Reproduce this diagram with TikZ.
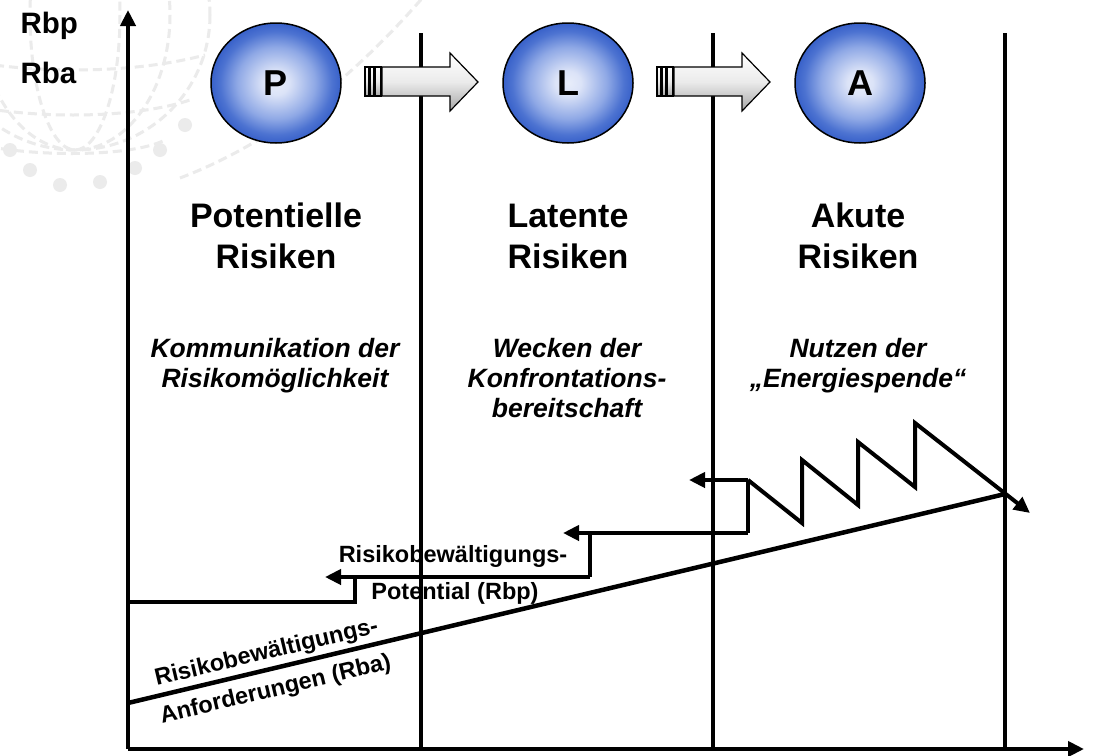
\documentclass[tikz,border=0pt]{standalone}
\usepackage{fontspec}
\setmainfont{Liberation Sans}
\usetikzlibrary{arrows.meta,shapes.geometric}
\pgfdeclareradialshading{ballshade}{\pgfpoint{0bp}{0bp}}{rgb(0bp)=(0.91,0.93,0.98); rgb(5bp)=(0.86,0.89,0.97); rgb(15bp)=(0.56,0.66,0.90); rgb(21.5bp)=(0.30,0.45,0.82); rgb(25bp)=(0.22,0.38,0.79); rgb(50bp)=(0.22,0.38,0.79)}
\tikzset{
  wm/.style={draw=black!8, line width=3pt, dash pattern=on 9pt off 5pt},
  bar/.style={line width=4pt, line cap=butt},
  tip/.style={-{Triangle[length=16pt,width=15pt]}},
  ball/.style={ellipse, draw=black, line width=1.5pt, shading=ballshade,
    minimum width=130pt, minimum height=120pt, inner sep=0pt,
    font=\fontsize{36}{40}\selectfont\bfseries},
  blk/.style={draw=black, line width=1.2pt, top color=white, bottom color=black!35, middle color=black!8},
  head/.style={anchor=base, font=\fontsize{34}{40}\selectfont\bfseries},
  sub/.style={anchor=base, font=\fontsize{26.5}{30}\selectfont\bfseries\itshape},
  lbl/.style={anchor=base, font=\fontsize{23.5}{28}\selectfont\bfseries},
  axlbl/.style={anchor=base west, font=\fontsize{29.5}{32}\selectfont\bfseries}
}
\begin{document}
\begin{tikzpicture}[x=1pt,y=-1pt]
\path[use as bounding box, fill=white] (0,0) rectangle (1102,755);
% watermark globe
\begin{scope}
\clip (0,0) rectangle (480,240);
\draw[wm] (75,15) circle (135);
\draw[wm] (75,15) ellipse (45 and 135);
\draw[wm] (75,15) ellipse (95 and 135);
\draw[wm] (-60,55) .. controls (20,75) and (130,75) .. (205,55);
\draw[wm] (-55,100) .. controls (20,120) and (130,120) .. (190,100);
\draw[wm] (-40,140) .. controls (20,158) and (130,158) .. (165,140);
\draw[wm] (180,178) .. controls (280,140) and (360,70) .. (425,-5);
\foreach \x/\y in {30/170,60/185,100/182,135/168,160/150,185/125,10/150}
  \fill[black!8] (\x,\y) circle (7);
\end{scope}
% axes
\coordinate (O) at (128,749);
\coordinate (Ytop) at (128,10);
\coordinate (Xend) at (1084,749);
\draw[bar, tip] (O) -- (Ytop);
\draw[bar, tip] (O) -- (Xend);
\node[axlbl] (rbp) at (17,33) {Rbp};
\node[axlbl] (rba) at (17,83) {Rba};
% column separators
\coordinate (s1t) at (421,33); \coordinate (s1b) at (421,749);
\coordinate (s2t) at (713,33); \coordinate (s2b) at (713,749);
\coordinate (s3t) at (1005,33); \coordinate (s3b) at (1005,749);
\draw[bar] (s1t) -- (s1b);
\draw[bar] (s2t) -- (s2b);
\draw[bar] (s3t) -- (s3b);
% circles
\node[ball] (P) at (276,83) {P};
\node[ball] (L) at (568,83) {L};
\node[ball] (A) at (860,83) {A};
% block arrows
\foreach \dx in {0,292}{
  \begin{scope}[xshift=\dx]
  \shade[blk] (365,67) rectangle (368.5,96);
  \shade[blk] (370,67) rectangle (374,96);
  \shade[blk] (375.5,67) rectangle (381,96);
  \shade[blk] (382,67) -- (450,67) -- (450,53) -- (478,82) -- (450,111) -- (450,96) -- (382,96) -- cycle;
  \end{scope}
}
% column texts
\node[head] (h1a) at (276,227) {Potentielle};
\node[head] (h1b) at (276,268) {Risiken};
\node[head] (h2a) at (568,227) {Latente};
\node[head] (h2b) at (568,268) {Risiken};
\node[head] (h3a) at (858,227) {Akute};
\node[head] (h3b) at (858,268) {Risiken};
\node[sub] (t1a) at (275,357) {Kommunikation der};
\node[sub] (t1b) at (275,387) {Risikomöglichkeit};
\node[sub] (t2a) at (567,357) {Wecken der};
\node[sub] (t2b) at (567,387) {Konfrontations-};
\node[sub] (t2c) at (567,417) {bereitschaft};
\node[sub] (t3a) at (858,357) {Nutzen der};
\node[sub] (t3b) at (858,387) {„Energiespende“};
% Rba line
\coordinate (rba0) at (128,703);
\coordinate (rba1) at (1005,494);
\draw[line width=4.5pt] (rba0) -- (rba1);
% staircase Rbp
\coordinate (p0) at (128,602);
\coordinate (p1) at (355,602);
\coordinate (p2) at (355,577);
\coordinate (p3) at (590,577);
\coordinate (p4) at (590,533);
\coordinate (p5) at (748,533);
\coordinate (p6) at (748,480);
\coordinate (a1) at (325,577);
\coordinate (a2) at (563,533);
\coordinate (a3) at (689,480);
\draw[bar] (p0) -- (p1) -- (p2);
\draw[bar] (p3) -- (p4);
\draw[bar] (p5) -- (p6);
\draw[bar, tip] (p3) -- (a1);
\draw[bar, tip] (p5) -- (a2);
\draw[bar, tip] (p6) -- (a3);
% zigzag
\coordinate (zend) at (1030,513);
\draw[bar, tip, line join=miter] (p6) -- (802,523) -- (802,460) -- (858,505) -- (858,442) -- (915,487) -- (915,423) -- (zend);
% labels
\node[lbl] (rbpl1) at (453,562) {Risikobewältigungs-};
\node[lbl] (rbpl2) at (455,599) {Potential (Rbp)};
\node[lbl, rotate=13.4] (rbal1) at (268,659) {Risikobewältigungs-};
\node[lbl, rotate=13.4] (rbal2) at (277,696) {Anforderungen (Rba)};
\end{tikzpicture}
\end{document}
